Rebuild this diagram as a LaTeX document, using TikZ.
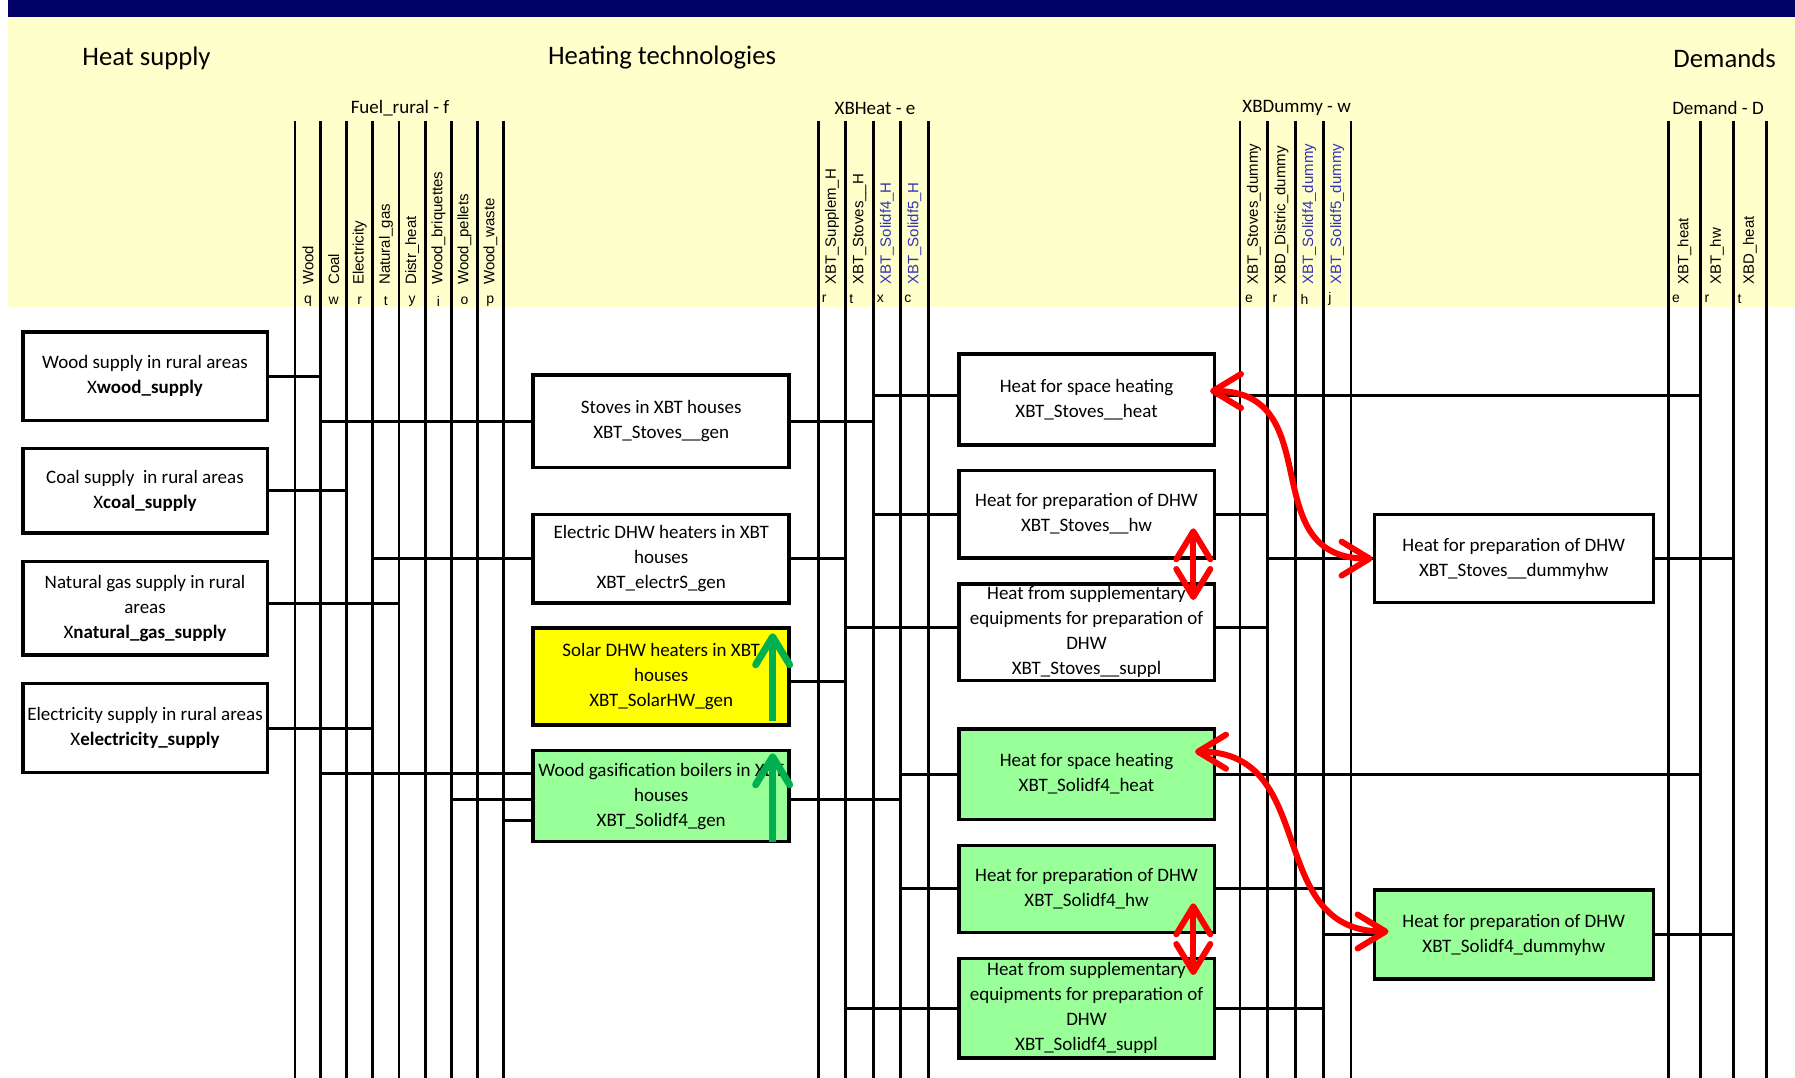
\documentclass[tikz,border=0pt]{standalone}
\usepackage{fontspec}
\setmainfont{Carlito}
\newfontfamily\colfont{Liberation Sans}
\usetikzlibrary{arrows.meta,positioning}

\definecolor{bandnavy}{RGB}{0,0,102}
\definecolor{bandyellow}{RGB}{255,255,204}
\definecolor{solaryellow}{RGB}{255,255,0}
\definecolor{boxgreen}{RGB}{153,255,153}
\definecolor{upgreen}{RGB}{0,176,80}
\definecolor{colblue}{RGB}{51,51,187}

\tikzset{
  techbox/.style={draw, line width=3.5pt, fill=white, align=center, inner sep=0pt,
    font=\fontsize{19}{25}\selectfont},
  srcbox/.style={techbox, minimum width=244.5pt},
  genbox/.style={techbox, minimum width=256pt},
  heatbox/.style={techbox, minimum width=255.5pt},
  dumbox/.style={techbox, minimum width=279pt},
  bus/.style={line width=2.5pt},
  flow/.style={line width=3pt},
  colname/.style={rotate=90, anchor=west, inner sep=0pt, font=\colfont\fontsize{15}{15}\selectfont},
  colcode/.style={inner sep=0pt, font=\colfont\fontsize{14}{14}\selectfont},
  grouptitle/.style={font=\fontsize{19}{19}\selectfont},
  bigtitle/.style={font=\fontsize{26.7}{26.7}\selectfont},
  redswap/.style={red, line width=6pt, >={Straight Barb[length=28pt,width=34pt,round]}, <->},
  greenup/.style={upgreen, line width=7pt, >={Straight Barb[length=28pt,width=34pt,round]}, ->}
}

\begin{document}
\begin{tikzpicture}[x=1pt,y=-1pt]
  \useasboundingbox (0,0) rectangle (1795,1078);

  % Header bands and titles
  \fill[bandnavy] (8,0) rectangle (1795,17);
  \fill[bandyellow] (8,17) rectangle (1795,307);
  \node[bigtitle] (hsup) at (146.5,58) {Heat supply};
  \node[bigtitle] (htech) at (662,58) {Heating technologies};
  \node[bigtitle] (hdem) at (1724.6,58) {Demands};

  % Commodity groups
  \node[grouptitle] (gfuel) at (400,108) {Fuel\_rural - f};
  \node[grouptitle] (gheat) at (875,108) {XBHeat - e};
  \node[grouptitle] (gdummy) at (1296.7,108) {XBDummy - w};
  \node[grouptitle] (gdemand) at (1718,108) {Demand - D};

  % Commodity lines
  \foreach \nm/\xx in {f0/295,fq/320.7,fw/346.7,fr/372.7,ft/399,fy/425.3,fi/451.7,fo/477.3,fp/503.3,
                       e0/818.3,er/845.7,et/873.3,ex/900.7,ec/928.3,
                       w0/1240,we/1267.7,wr/1295.3,wh/1323.3,wj/1351,
                       d0/1668.3,de/1700.7,dr/1733.3,dt/1766.7}
    \draw[bus] (\xx,121) coordinate (\nm) -- (\xx,1078);

  % Commodity names and codes
  \foreach \txt/\xx/\cd in {Wood/307.9/q, Coal/333.7/w, Electricity/359.7/r, Natural\_gas/385.9/t,
      Distr\_heat/412.2/y, Wood\_briquettes/438.5/i, Wood\_pellets/464.5/o, Wood\_waste/490.3/p}
  {
    \node[colname] (nf\cd) at (\xx,285) {\txt};
    \node[colcode] (cf\cd) at (\xx,301) {\cd};
  }
  \foreach \txt/\xx/\cd/\clr in {XBT\_Supplem\_H/832/r/black, XBT\_Stoves\_\_H/859.5/t/black,
      XBT\_Solidf4\_H/887/x/colblue, XBT\_Solidf5\_H/914.5/c/colblue}
  {
    \node[colname, text=\clr] (ne\cd) at (\xx,285) {\txt};
    \node[colcode, anchor=west] (ce\cd) at (\xx-10.3,299) {\cd};
  }
  \foreach \txt/\xx/\cd/\clr in {XBT\_Stoves\_dummy/1253.9/e/black, XBD\_Distric\_dummy/1281.5/r/black,
      XBT\_Solidf4\_dummy/1309.3/h/colblue, XBT\_Solidf5\_dummy/1337.2/j/colblue}
  {
    \node[colname, text=\clr] (nw\cd) at (\xx,285) {\txt};
    \node[colcode, anchor=west] (cw\cd) at (\xx-9,299) {\cd};
  }
  \foreach \txt/\xx/\cd in {XBT\_heat/1684.5/e, XBT\_hw/1717/r, XBD\_heat/1750/t}
  {
    \node[colname] (nd\cd) at (\xx,285) {\txt};
    \node[colcode, anchor=west] (cd\cd) at (\xx-12.7,299) {\cd};
  }

  % Supply processes
  \node[srcbox, minimum height=88.5pt] (wood) at (145,376)
    {Wood supply in rural areas\\X\textbf{wood\_supply}};
  \node[srcbox, minimum height=84.3pt, below=24.7pt of wood] (coal)
    {Coal supply~ in rural areas\\X\textbf{coal\_supply}};
  \node[srcbox, minimum height=93.9pt, below=25pt of coal] (ngas)
    {Natural gas supply in rural\\areas\\X\textbf{natural\_gas\_supply}};
  \node[srcbox, minimum height=89pt, below=25pt of ngas] (elec)
    {Electricity supply in rural areas\\X\textbf{electricity\_supply}};

  % Heating technologies
  \node[genbox, minimum height=92.2pt] (stoves) at (661.2,421.3)
    {Stoves in XBT houses\\XBT\_Stoves\_\_gen};
  \node[genbox, minimum height=88.5pt, below=43.6pt of stoves] (electr)
    {Electric DHW heaters in XBT\\houses\\XBT\_electrS\_gen};
  \node[genbox, minimum height=97pt, fill=solaryellow, below=21.7pt of electr] (solar)
    {Solar DHW heaters in XBT\\houses\\XBT\_SolarHW\_gen};
  \node[genbox, minimum height=90.8pt, fill=boxgreen, below=22pt of solar] (solidgen)
    {Wood gasification boilers in XBT\\houses\\XBT\_Solidf4\_gen};

  % Heat uses
  \node[heatbox, minimum height=91.1pt] (stheat) at (1086.5,399.3)
    {Heat for space heating\\XBT\_Stoves\_\_heat};
  \node[heatbox, minimum height=87.5pt, below=22pt of stheat] (sthw)
    {Heat for preparation of DHW\\XBT\_Stoves\_\_hw};
  \node[heatbox, minimum height=96.5pt, below=22.4pt of sthw] (stsup)
    {Heat from supplementary\\equipments for preparation of\\DHW\\XBT\_Stoves\_\_suppl};
  \node[heatbox, minimum height=90.5pt, fill=boxgreen, below=45pt of stsup] (soheat)
    {Heat for space heating\\XBT\_Solidf4\_heat};
  \node[heatbox, minimum height=87pt, fill=boxgreen, below=22.5pt of soheat] (sohw)
    {Heat for preparation of DHW\\XBT\_Solidf4\_hw};
  \node[heatbox, minimum height=99.5pt, fill=boxgreen, below=22.5pt of sohw] (sosup)
    {Heat from supplementary\\equipments for preparation of\\DHW\\XBT\_Solidf4\_suppl};

  % Dummy processes
  \node[dumbox, minimum height=88.1pt] (stdum) at (1513.8,558.6)
    {Heat for preparation of DHW\\XBT\_Stoves\_\_dummyhw};
  \node[dumbox, minimum height=89.1pt, fill=boxgreen] (sodum) at (1513.8,934.5)
    {Heat for preparation of DHW\\XBT\_Solidf4\_dummyhw};

  % Flows
  \draw[flow] (wood.east) -- (wood.east -| fq);
  \draw[flow] (coal.east) -- (coal.east -| fw);
  \draw[flow] ([yshift=5pt]ngas.east) -- ([yshift=5pt]ngas.east -| ft);
  \draw[flow] (elec.east) -- (elec.east -| fr);
  \draw[flow] (stoves.west -| fq) -- (stoves.west);
  \draw[flow] (stoves.east) -- (stoves.east -| et);
  \draw[flow] (electr.west -| fr) -- (electr.west);
  \draw[flow] (electr.east) -- (electr.east -| er);
  \draw[flow] ([yshift=-5pt]solar.east) -- ([yshift=-5pt]solar.east -| er);
  \draw[flow] ([yshift=23pt]solidgen.west -| fq) -- ([yshift=23pt]solidgen.west);
  \draw[flow] ([yshift=-3pt]solidgen.west -| fi) -- ([yshift=-3pt]solidgen.west);
  \draw[flow] ([yshift=-24.5pt]solidgen.west -| fp) -- ([yshift=-24.5pt]solidgen.west);
  \draw[flow] ([yshift=-3pt]solidgen.east) -- ([yshift=-3pt]solidgen.east -| ex);
  \draw[flow] ([yshift=4pt]stheat.west -| et) -- ([yshift=4pt]stheat.west);
  \draw[flow] ([yshift=4pt]stheat.east) -- ([yshift=4pt]stheat.east -| de);
  \draw[flow] (sthw.west -| et) -- (sthw.west);
  \draw[flow] (sthw.east) -- (sthw.east -| we);
  \draw[flow] ([yshift=5pt]stsup.west -| er) -- ([yshift=5pt]stsup.west);
  \draw[flow] ([yshift=5pt]stsup.east) -- ([yshift=5pt]stsup.east -| we);
  \draw[flow] (soheat.west -| ex) -- (soheat.west);
  \draw[flow] (soheat.east) -- (soheat.east -| de);
  \draw[flow] (sohw.west -| ex) -- (sohw.west);
  \draw[flow] (sohw.east) -- (sohw.east -| wh);
  \draw[flow] (sosup.west -| er) -- (sosup.west);
  \draw[flow] (sosup.east) -- (sosup.east -| wh);
  \draw[flow] (stdum.west -| we) -- (stdum.west);
  \draw[flow] (stdum.east) -- (stdum.east -| dr);
  \draw[flow] (sodum.west -| wh) -- (sodum.west);
  \draw[flow] (sodum.east) -- (sodum.east -| dr);

  % Switchable flows
  \draw[redswap] ([xshift=-6pt,yshift=8.3pt]stheat.east) .. controls +(120,0) and +(-120,0) .. (stdum.west);
  \draw[redswap] ([xshift=-21pt,yshift=22.3pt]soheat.east) .. controls +(125,0) and +(-125,0) .. ([xshift=16pt,yshift=3pt]sodum.west);
  \draw[redswap] ([xshift=-22.7pt,yshift=31.3pt]sthw.south east) -- ([xshift=-22.7pt,yshift=-18pt]stsup.north east);
  \draw[redswap] ([xshift=-22.7pt,yshift=30.7pt]sohw.south east) -- ([xshift=-22.7pt,yshift=-18.5pt]sosup.north east);

  % New technologies
  \draw[greenup] ([xshift=-18.3pt,yshift=6.3pt]solar.south east) -- ([xshift=-18.3pt,yshift=-6.8pt]solar.north east);
  \draw[greenup] ([xshift=-18.3pt,yshift=1.6pt]solidgen.south east) -- ([xshift=-18.3pt,yshift=-4.3pt]solidgen.north east);
\end{tikzpicture}
\end{document}
